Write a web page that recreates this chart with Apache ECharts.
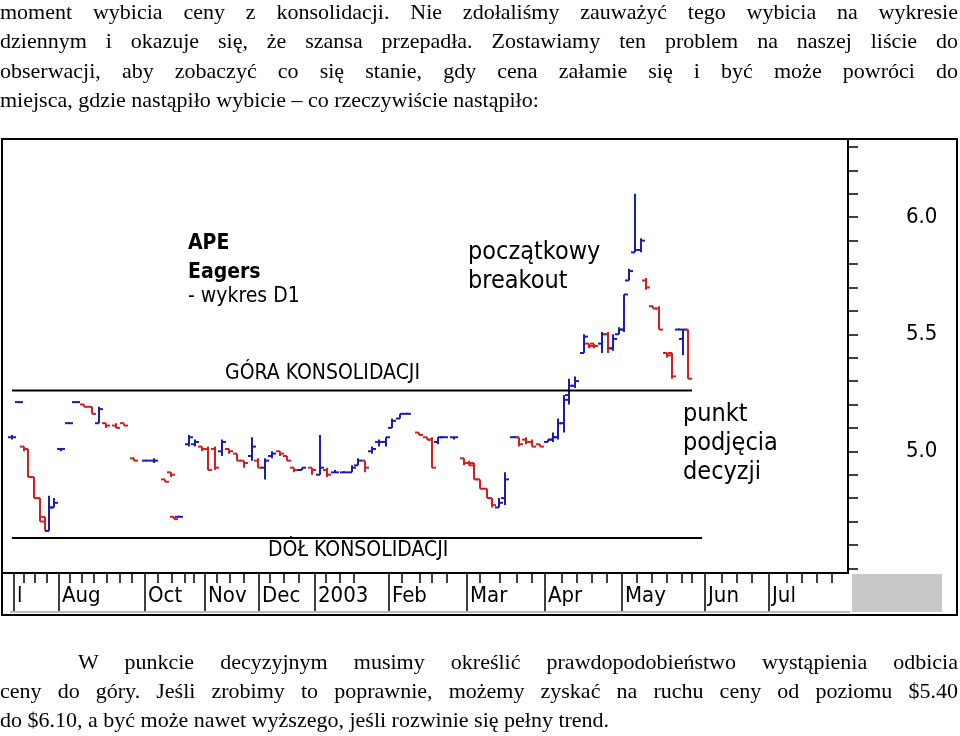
<!DOCTYPE html>
<html><head><meta charset="utf-8">
<script src="https://cdn.jsdelivr.net/npm/echarts@6/dist/echarts.min.js"></script>
<style>
body{margin:0;width:960px;height:736px;overflow:hidden;background:#fff;position:relative}
.t{position:absolute;left:0;width:958px;font:22px "Liberation Serif",serif;color:#000;white-space:nowrap;line-height:29.5px;text-align:justify;text-align-last:justify}
.t.l{text-align-last:left}
#c{position:absolute;left:0;top:0;width:960px;height:736px}
</style></head><body>
<div id="c"></div>
<div class="t" style="top:-3px">moment wybicia ceny z konsolidacji. Nie zdołaliśmy zauważyć tego wybicia na wykresie</div>
<div class="t" style="top:26px">dziennym i okazuje się, że szansa przepadła. Zostawiamy ten problem na naszej liście do</div>
<div class="t" style="top:56px">obserwacji, aby zobaczyć co się stanie, gdy cena załamie się i być może powróci do</div>
<div class="t l" style="top:85px">miejsca, gdzie nastąpiło wybicie – co rzeczywiście nastąpiło:</div>
<div class="t" style="top:647px;left:78px;width:880px">W punkcie decyzyjnym musimy określić prawdopodobieństwo wystąpienia odbicia</div>
<div class="t" style="top:676px">ceny do góry. Jeśli zrobimy to poprawnie, możemy zyskać na ruchu ceny od poziomu $5.40</div>
<div class="t l" style="top:705px">do $6.10, a być może nawet wyższego, jeśli rozwinie się pełny trend.</div>
<script>
// [x, open, close, low, high]
var bars = [
[10,5.06,5.06,5.05,5.07],[17,5.21,5.21,5.21,5.21],[22,5.02,5.01,5.0,5.02],[26,5.01,4.89,4.89,5.01],
[32,4.89,4.80,4.80,4.89],[38,4.80,4.70,4.70,4.80],[43,4.72,4.66,4.66,4.72],[47,4.66,4.76,4.66,4.81],
[52,4.76,4.78,4.76,4.80],[59,5.01,5.01,5.00,5.01],[67,5.12,5.12,5.12,5.12],[74,5.21,5.21,5.21,5.21],
[82,5.20,5.19,5.19,5.20],[90,5.19,5.16,5.16,5.19],[97,5.12,5.18,5.12,5.19],[104,5.12,5.11,5.10,5.12],
[114,5.11,5.10,5.10,5.12],[122,5.12,5.11,5.11,5.12],[132,4.97,4.96,4.96,4.97],[144,4.96,4.96,4.96,4.96],
[152,4.96,4.96,4.95,4.97],[163,4.88,4.87,4.87,4.88],[169,4.91,4.90,4.89,4.91],[172,4.72,4.71,4.71,4.72],
[177,4.72,4.72,4.72,4.72],[187,5.03,5.06,5.02,5.07],[193,5.03,5.04,5.02,5.05],[200,5.02,5.01,5.00,5.02],
[206,5.01,4.92,4.92,5.02],[213,5.01,4.93,4.92,5.02],[220,5.00,5.04,4.98,5.05],[227,5.01,5.00,4.99,5.01],
[235,4.99,4.96,4.96,4.99],[242,4.96,4.95,4.93,4.96],[250,4.98,5.02,4.96,5.06],[256,4.96,4.93,4.93,4.97],
[263,4.93,4.96,4.88,4.97],[270,4.98,4.99,4.97,5.00],[278,5.00,4.99,4.98,5.00],[285,4.98,4.96,4.96,4.98],
[292,4.93,4.92,4.91,4.93],[300,4.92,4.93,4.92,4.93],[310,4.93,4.92,4.90,4.93],[318,4.90,4.93,4.90,5.07],
[325,4.92,4.90,4.89,4.93],[333,4.91,4.91,4.91,4.92],[342,4.91,4.91,4.91,4.91],[350,4.91,4.93,4.91,4.94],
[356,4.94,4.96,4.94,4.97],[363,4.96,4.93,4.91,4.96],[370,5.00,5.01,4.99,5.02],[377,5.04,5.04,5.02,5.05],
[384,5.04,5.06,5.02,5.06],[390,5.10,5.13,5.10,5.14],[398,5.14,5.16,5.14,5.16],[405,5.16,5.16,5.16,5.16],
[417,5.08,5.07,5.07,5.08],[425,5.06,5.05,5.05,5.06],[430,5.05,4.93,4.93,5.06],[436,5.04,5.06,5.03,5.06],
[442,5.06,5.06,5.06,5.06],[452,5.06,5.06,5.05,5.06],[462,4.97,4.95,4.94,4.97],[467,4.95,4.94,4.94,4.96],
[472,4.95,4.88,4.88,4.95],[478,4.88,4.84,4.84,4.88],[485,4.84,4.80,4.80,4.84],[490,4.80,4.77,4.76,4.80],
[497,4.76,4.78,4.76,4.80],[503,4.80,4.88,4.77,4.91],[512,5.06,5.06,5.06,5.06],[517,5.06,5.03,5.02,5.06],
[524,5.05,5.04,5.03,5.06],[530,5.04,5.02,5.02,5.05],[538,5.03,5.02,5.02,5.03],[546,5.04,5.05,5.04,5.05],
[551,5.05,5.06,5.04,5.08],[556,5.06,5.12,5.05,5.14],[562,5.12,5.22,5.08,5.24],[567,5.24,5.28,5.20,5.31],
[573,5.28,5.30,5.27,5.32],[582,5.42,5.49,5.42,5.50],[587,5.46,5.45,5.44,5.46],[592,5.46,5.45,5.44,5.46],
[600,5.46,5.50,5.42,5.51],[606,5.50,5.44,5.42,5.51],[611,5.44,5.48,5.43,5.50],[617,5.50,5.52,5.50,5.53],
[622,5.52,5.67,5.51,5.67],[627,5.73,5.77,5.73,5.78],[633,5.85,5.86,5.85,6.10],[639,5.86,5.90,5.85,5.91],
[644,5.73,5.70,5.69,5.74],[651,5.62,5.61,5.61,5.62],[657,5.61,5.52,5.52,5.62],[665,5.42,5.41,5.40,5.42],
[670,5.42,5.32,5.31,5.42],[677,5.52,5.52,5.52,5.52],[681,5.48,5.52,5.41,5.52],[686,5.52,5.31,5.31,5.52]
];
var monthPos = [12,57,143,203,257,313,387,465,543,620,703,767];
var monthLabels = ['l','Aug','Oct','Nov','Dec','2003','Feb','Mar','Apr','May','Jun','Jul'];
var minorX = [22,33,45,68,80,92,105,118,130,156,170,183,192,215,228,242,268,282,297,324,338,352,400,418,430,445,
  478,498,515,530,560,575,590,605,635,650,665,680,690,720,735,750,785,800,815,830];
var priceLabels = [5.0,5.5,6.0];
var minorY = [4.5,4.6,4.7,4.8,4.9,5.1,5.2,5.3,5.4,5.6,5.7,5.8,5.9,6.1,6.2,6.3];
var consTop = 5.26, consBottom = 4.63;

var chart = echarts.init(document.getElementById('c'));
var font = '"DejaVu Sans Condensed","DejaVu Sans",sans-serif';
chart.setOption({
  animation:false,
  grid:{left:2,right:112,top:140,bottom:163},
  xAxis:[
    {type:'value',min:0,max:846,splitLine:{show:false},axisLine:{onZero:false,lineStyle:{color:'#000',width:2}},
     axisTick:{customValues:minorX,length:10,lineStyle:{color:'#000',width:1.5}},axisLabel:{show:false}},
    {type:'value',min:0,max:846,position:'bottom',splitLine:{show:false},axisLine:{show:false,onZero:false},
     axisTick:{customValues:monthPos,length:38,lineStyle:{color:'#000',width:1.5}},
     axisLabel:{customValues:monthPos,formatter:function(v){return monthLabels[monthPos.indexOf(v)];},
       align:'left',padding:[0,0,0,3],margin:12,fontFamily:font,fontSize:22,color:'#000'}}
  ],
  yAxis:{type:'value',position:'right',min:4.48,max:6.33,splitLine:{show:false},
    axisLine:{show:true,onZero:false,lineStyle:{color:'#000',width:2}},
    axisTick:{customValues:minorY.concat(priceLabels),inside:false,length:10,lineStyle:{color:'#000',width:1.5}},
    axisLabel:{customValues:priceLabels,formatter:function(v){return v.toFixed(1);},margin:58,
      fontFamily:font,fontSize:22,color:'#000'}},
  graphic:[
    {type:'rect',shape:{x:2,y:139,width:955,height:476},style:{fill:'none',stroke:'#000',lineWidth:2},z:-1},
    {type:'rect',shape:{x:852,y:574,width:90,height:38},style:{fill:'#c8c8c8'}},
    {type:'line',shape:{x1:10,y1:612,x2:850,y2:612},style:{stroke:'#bbb',lineWidth:2}},
    {type:'text',left:188,top:229,style:{text:'APE\nEagers',font:'bold 21px '+font,lineHeight:29,fill:'#000'}},
    {type:'text',left:188,top:286,style:{text:'- wykres D1',font:'21px '+font,fill:'#000'}},
    {type:'text',left:225,top:363,style:{text:'GÓRA KONSOLIDACJI',font:'21px '+font,fill:'#000'}},
    {type:'text',left:268,top:540,style:{text:'DÓŁ KONSOLIDACJI',font:'21px '+font,fill:'#000'}},
    {type:'text',left:468,top:238,style:{text:'początkowy\nbreakout',font:'25px '+font,lineHeight:29,fill:'#000'}},
    {type:'text',left:683,top:400,style:{text:'punkt\npodjęcia\ndecyzji',font:'25px '+font,lineHeight:29,fill:'#000'}}
  ],
  series:[
    {type:'line',data:[[10,consTop],[690,consTop]],symbol:'none',lineStyle:{color:'#000',width:2},silent:true},
    {type:'line',data:[[10,consBottom],[700,consBottom]],symbol:'none',lineStyle:{color:'#000',width:2},silent:true},
    {type:'custom',data:bars,encode:{x:0,y:[1,2,3,4]},
     renderItem:function(params,api){
       var x=api.value(0),o=api.value(1),c=api.value(2),l=api.value(3),h=api.value(4);
       var pl=api.coord([x,l]),ph=api.coord([x,h]),po=api.coord([x,o]),pc=api.coord([x,c]);
       var col=c>=o?'#1c1cb0':'#d02020';
       var st={stroke:col,lineWidth:2};
       if(Math.abs(ph[1]-pl[1])<1)ph[1]-=1;
       return {type:'group',children:[
         {type:'line',shape:{x1:pl[0],y1:pl[1],x2:ph[0],y2:ph[1]},style:st},
         {type:'line',shape:{x1:po[0]-4,y1:po[1],x2:po[0],y2:po[1]},style:st},
         {type:'line',shape:{x1:pc[0],y1:pc[1],x2:pc[0]+4,y2:pc[1]},style:st}
       ]};
     }}
  ]
});
</script>
</body></html>
